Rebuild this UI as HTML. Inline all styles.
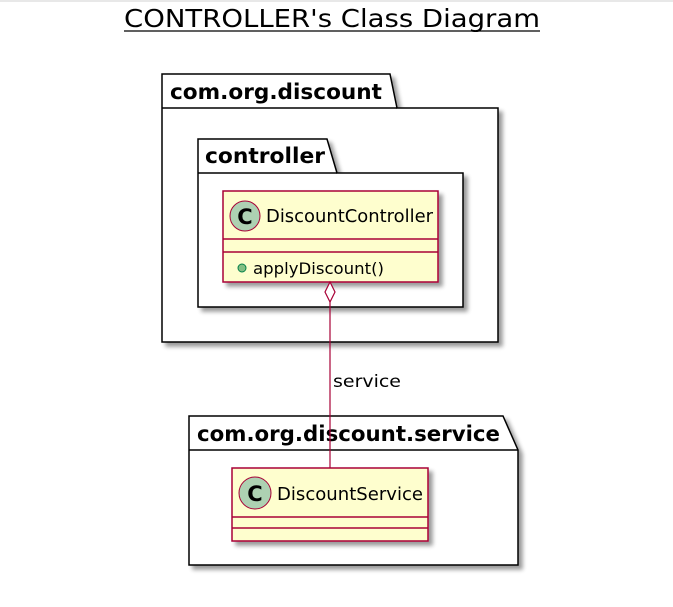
<!DOCTYPE html>
<html><head><style>body{margin:0;background:#fff}</style></head><body>
<svg width="673" height="602" xmlns="http://www.w3.org/2000/svg" font-family="'DejaVu Sans','Liberation Sans',sans-serif">
<defs><filter id="sh" x="-10%" y="-10%" width="130%" height="130%"><feGaussianBlur in="SourceAlpha" stdDeviation="2"/><feOffset dx="4" dy="4"/><feComponentTransfer><feFuncA type="linear" slope="0.4"/></feComponentTransfer><feMerge><feMergeNode/><feMergeNode in="SourceGraphic"/></feMerge></filter></defs>
<rect x="0" y="0" width="673" height="2" fill="#e8e8e8"/>
<text x="124" y="27" font-size="25" fill="#000" textLength="416" lengthAdjust="spacingAndGlyphs">CONTROLLER's Class Diagram</text>
<line x1="124" y1="31" x2="540" y2="31" stroke="#000" stroke-width="1.2"/>
<g filter="url(#sh)" stroke="#000" stroke-width="1.5" fill="#fff">
<polygon points="162,74 390,74 397,108 498,108 498,342 162,342"/>
</g>
<line x1="162" y1="108" x2="397" y2="108" stroke="#000" stroke-width="1.5"/>
<text x="170" y="99" font-size="21" font-weight="bold" textLength="212" lengthAdjust="spacingAndGlyphs">com.org.discount</text>
<g filter="url(#sh)" stroke="#000" stroke-width="1.5" fill="#fff">
<polygon points="198,139 327,139 337,173 463,173 463,307 198,307"/>
</g>
<line x1="198" y1="173" x2="337" y2="173" stroke="#000" stroke-width="1.5"/>
<text x="205" y="163" font-size="21" font-weight="bold" textLength="120" lengthAdjust="spacingAndGlyphs">controller</text>
<g filter="url(#sh)"><rect x="223" y="191" width="215" height="91" fill="#fefece" stroke="#a80036" stroke-width="1.5"/></g>
<line x1="223" y1="239" x2="438" y2="239" stroke="#a80036" stroke-width="1.5"/>
<line x1="223" y1="252" x2="438" y2="252" stroke="#a80036" stroke-width="1.5"/>
<circle cx="245" cy="216" r="15" fill="#add1b2" stroke="#a80036" stroke-width="1"/>
<text x="245" y="224" font-size="21" font-weight="bold" text-anchor="middle">C</text>
<text x="266" y="222" font-size="18" textLength="167" lengthAdjust="spacingAndGlyphs">DiscountController</text>
<circle cx="242" cy="268" r="4" fill="#84be84" stroke="#038048" stroke-width="1"/>
<text x="253" y="274" font-size="16" textLength="131" lengthAdjust="spacingAndGlyphs">applyDiscount()</text>
<g filter="url(#sh)" stroke="#000" stroke-width="1.5" fill="#fff">
<polygon points="189,416 503,416 518,450 518,565 189,565"/>
</g>
<line x1="189" y1="450" x2="518" y2="450" stroke="#000" stroke-width="1.5"/>
<text x="197" y="441" font-size="21" font-weight="bold" textLength="303" lengthAdjust="spacingAndGlyphs">com.org.discount.service</text>
<g filter="url(#sh)"><rect x="232" y="468" width="196" height="73" fill="#fefece" stroke="#a80036" stroke-width="1.5"/></g>
<line x1="232" y1="517" x2="428" y2="517" stroke="#a80036" stroke-width="1.5"/>
<line x1="232" y1="528" x2="428" y2="528" stroke="#a80036" stroke-width="1.5"/>
<circle cx="255" cy="493" r="16" fill="#add1b2" stroke="#a80036" stroke-width="1"/>
<text x="255" y="501" font-size="21" font-weight="bold" text-anchor="middle">C</text>
<text x="277" y="500" font-size="18" textLength="146" lengthAdjust="spacingAndGlyphs">DiscountService</text>
<line x1="330" y1="302" x2="330" y2="468" stroke="#a80036" stroke-width="1.2"/>
<polygon points="330,282 335,292 330,302 325,292" fill="#fff" stroke="#a80036" stroke-width="1.2"/>
<text x="333" y="387" font-size="17" textLength="68" lengthAdjust="spacingAndGlyphs">service</text>
</svg>
</body></html>
